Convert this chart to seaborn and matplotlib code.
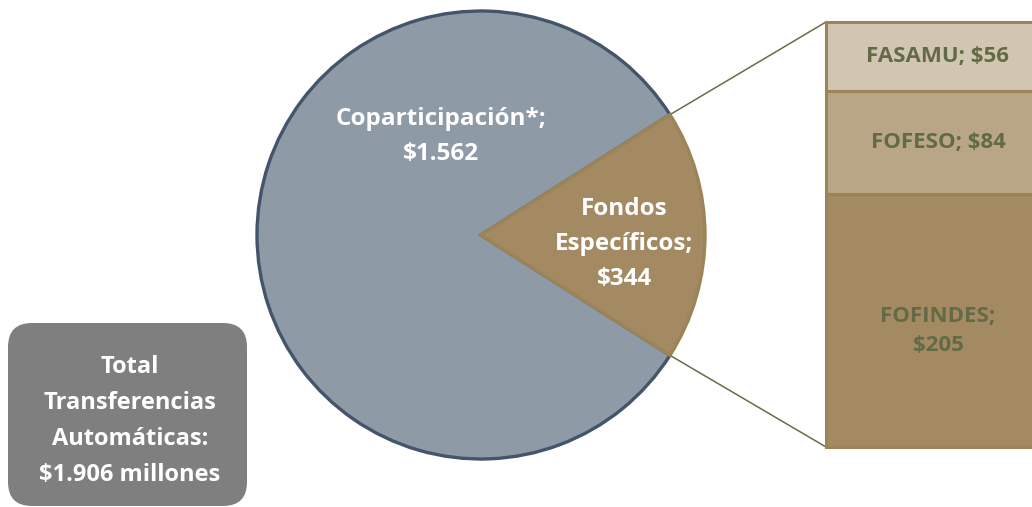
import matplotlib
matplotlib.use('Agg')
import numpy as np
import seaborn as sns
from matplotlib import pyplot as plt
from matplotlib.patches import ConnectionPatch, FancyBboxPatch

sns.set_theme(style="white")
plt.rcParams['font.family'] = ['Open Sans', 'DejaVu Sans']

# data
pie_labels = ['Fondos\nEspecíficos;\n$344', 'Coparticipación*;\n$1.562']
pie_values = [344, 1562]
bar_labels = ['FOFINDES;\n$205', 'FOFESO; $84', 'FASAMU; $56']
bar_values = [205, 84, 56]
total_text = 'Total\nTransferencias\nAutomáticas:\n$1.906 millones'

pie_colors = ['#A38A63', '#8F9AA7']
pie_edges = ['#9C8457', '#44546A']
bar_colors = ['#A48A62', '#B8A686', '#D0C6B2']
bar_edge = '#9C8457'
bar_text = '#636B46'

W, H = 1032, 507
fig = plt.figure(figsize=(W / 100, H / 100), dpi=100)


def px_axes(x0, y0, x1, y1):
    # pixel box (top-left origin) -> figure axes
    return fig.add_axes([x0 / W, 1 - y1 / H, (x1 - x0) / W, (y1 - y0) / H])


# pie
ax_pie = px_axes(257, 11, 705, 459)
share = pie_values[0] / sum(pie_values) * 360
wedges, texts = ax_pie.pie(pie_values, colors=pie_colors, startangle=-share / 2,
                           radius=1, labels=None,
                           wedgeprops=dict(linewidth=2.4))
for w, ec in zip(wedges, pie_edges):
    w.set_edgecolor(ec)
wedges[0].set_zorder(3)
ax_pie.set_xlim(-1.0, 1.0)
ax_pie.set_ylim(-1.0, 1.0)
ax_pie.set_aspect('equal')
ax_pie.axis('off')
ax_pie.text(0.64, -0.04, pie_labels[0], ha='center', va='center', color='white',
            fontsize=17.5, fontweight='bold', linespacing=1.6, zorder=5)
ax_pie.text(-0.18, 0.44, pie_labels[1], ha='center', va='center', color='white',
            fontsize=17.5, fontweight='bold', linespacing=1.6, zorder=5)

# bar of pie
ax_bar = px_axes(826, 22, 1050, 447)
bottoms = np.concatenate([[0], np.cumsum(bar_values)[:-1]])
ax_bar.bar([0] * len(bar_values), bar_values, bottom=bottoms, width=1,
           color=bar_colors, edgecolor=bar_edge, linewidth=2.2, clip_on=False)
label_shift = [-8, 0, 0]  # FOFINDES label sits a bit below the middle
for lab, b, v, s in zip(bar_labels, bottoms, bar_values, label_shift):
    ax_bar.text(0, b + v / 2 + s, lab, ha='center', va='center', color=bar_text,
                fontsize=16, fontweight='bold', linespacing=1.5)
ax_bar.set_xlim(-0.5, 0.5)
ax_bar.set_ylim(0, sum(bar_values))
ax_bar.axis('off')

# connector lines
a = np.deg2rad(share / 2)
for sgn, yb in [(1, sum(bar_values)), (-1, 0)]:
    con = ConnectionPatch(xyA=(np.cos(a), sgn * np.sin(a)), coordsA=ax_pie.transData,
                          xyB=(-0.5, yb), coordsB=ax_bar.transData,
                          color='#6B6B45', linewidth=1.1, zorder=0)
    fig.add_artist(con)

# total box
ax_bg = fig.add_axes([0, 0, 1, 1], zorder=-1)
ax_bg.set_xlim(0, W)
ax_bg.set_ylim(H, 0)
ax_bg.axis('off')
box = FancyBboxPatch((8 + 24, 323 + 24), 239 - 48, 183 - 48,
                     boxstyle='round,pad=24', facecolor='#7F7F7F', edgecolor='none')
ax_bg.add_patch(box)
ax_bg.text(130, 421, total_text, ha='center', va='center', color='white',
           fontsize=17, fontweight='bold', linespacing=1.68)

fig.savefig('out.png', dpi=100)
